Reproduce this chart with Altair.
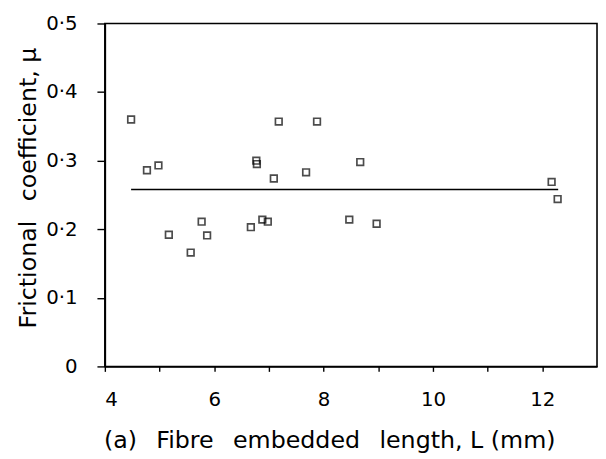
import altair as alt
import pandas as pd

# Fibre embedded length L (mm) and frictional coefficient mu
length_mm = [4.48, 4.77, 4.98, 5.17, 5.57, 5.77, 5.87, 6.67, 6.77, 6.78,
             6.88, 6.98, 7.09, 7.18, 7.68, 7.88, 8.47, 8.67, 8.97, 12.17, 12.28]
mu = [0.360, 0.286, 0.293, 0.192, 0.166, 0.211, 0.191, 0.203, 0.300, 0.295,
      0.214, 0.211, 0.274, 0.357, 0.283, 0.357, 0.214, 0.298, 0.208, 0.269, 0.244]

# mean line
line_x = [4.48, 12.29]
line_y = [0.258, 0.258]

x_ticks = [4, 5, 6, 7, 8, 9, 10, 11, 12]
y_ticks = [0, 0.1, 0.2, 0.3, 0.4, 0.5]

FONT = "DejaVu Sans"
SP = "\u2002"

pts = pd.DataFrame({"L": length_mm, "mu": mu})
ln = pd.DataFrame({"L": line_x, "mu": line_y})

xscale = alt.Scale(domain=[4, 13], nice=False, zero=False)
yscale = alt.Scale(domain=[0, 0.5], nice=False)

xaxis = alt.Axis(
    values=x_ticks,
    labelExpr="datum.value % 2 == 0 ? format(datum.value, 'd') : ''",
    title=f"(a){SP} Fibre{SP} embedded{SP} length, L (mm)",
    titleX=227, titleY=82, titleBaseline="alphabetic", titleAnchor="middle",
    tickSize=5, labelPadding=19, grid=False,
)
yaxis = alt.Axis(
    values=y_ticks,
    labelExpr="datum.value == 0 ? '0' : replace(format(datum.value, '.1f'), '.', '·')",
    title=f"Frictional{SP} coefficient, μ",
    titleX=-70, titleY=166, titleBaseline="alphabetic", titleAnchor="middle",
    tickSize=8, labelPadding=20, grid=False,
)

points = alt.Chart(pts).mark_square(filled=False, size=45, color="black", strokeWidth=1.7).encode(
    x=alt.X("L:Q", scale=xscale, axis=xaxis),
    y=alt.Y("mu:Q", scale=yscale, axis=yaxis),
)
line = alt.Chart(ln).mark_line(color="black", strokeWidth=1.6).encode(
    x=alt.X("L:Q", scale=xscale),
    y=alt.Y("mu:Q", scale=yscale),
)

chart = alt.layer(line, points).properties(
    width=498, height=347,
    background="white",
    autosize=alt.AutoSizeParams(type="none"),
    padding={"left": 98, "top": 13, "right": 1, "bottom": 90},
).configure_view(
    stroke="black", strokeWidth=1.6
).configure_axis(
    domainColor="black", domainWidth=1.6, tickColor="black", tickWidth=1.4,
    labelColor="black", titleColor="black", labelFont=FONT, titleFont=FONT,
    labelFontSize=20, titleFontSize=24, titleFontWeight="normal",
)

chart.save("out.html", embed_options={"renderer": "svg", "actions": False})
